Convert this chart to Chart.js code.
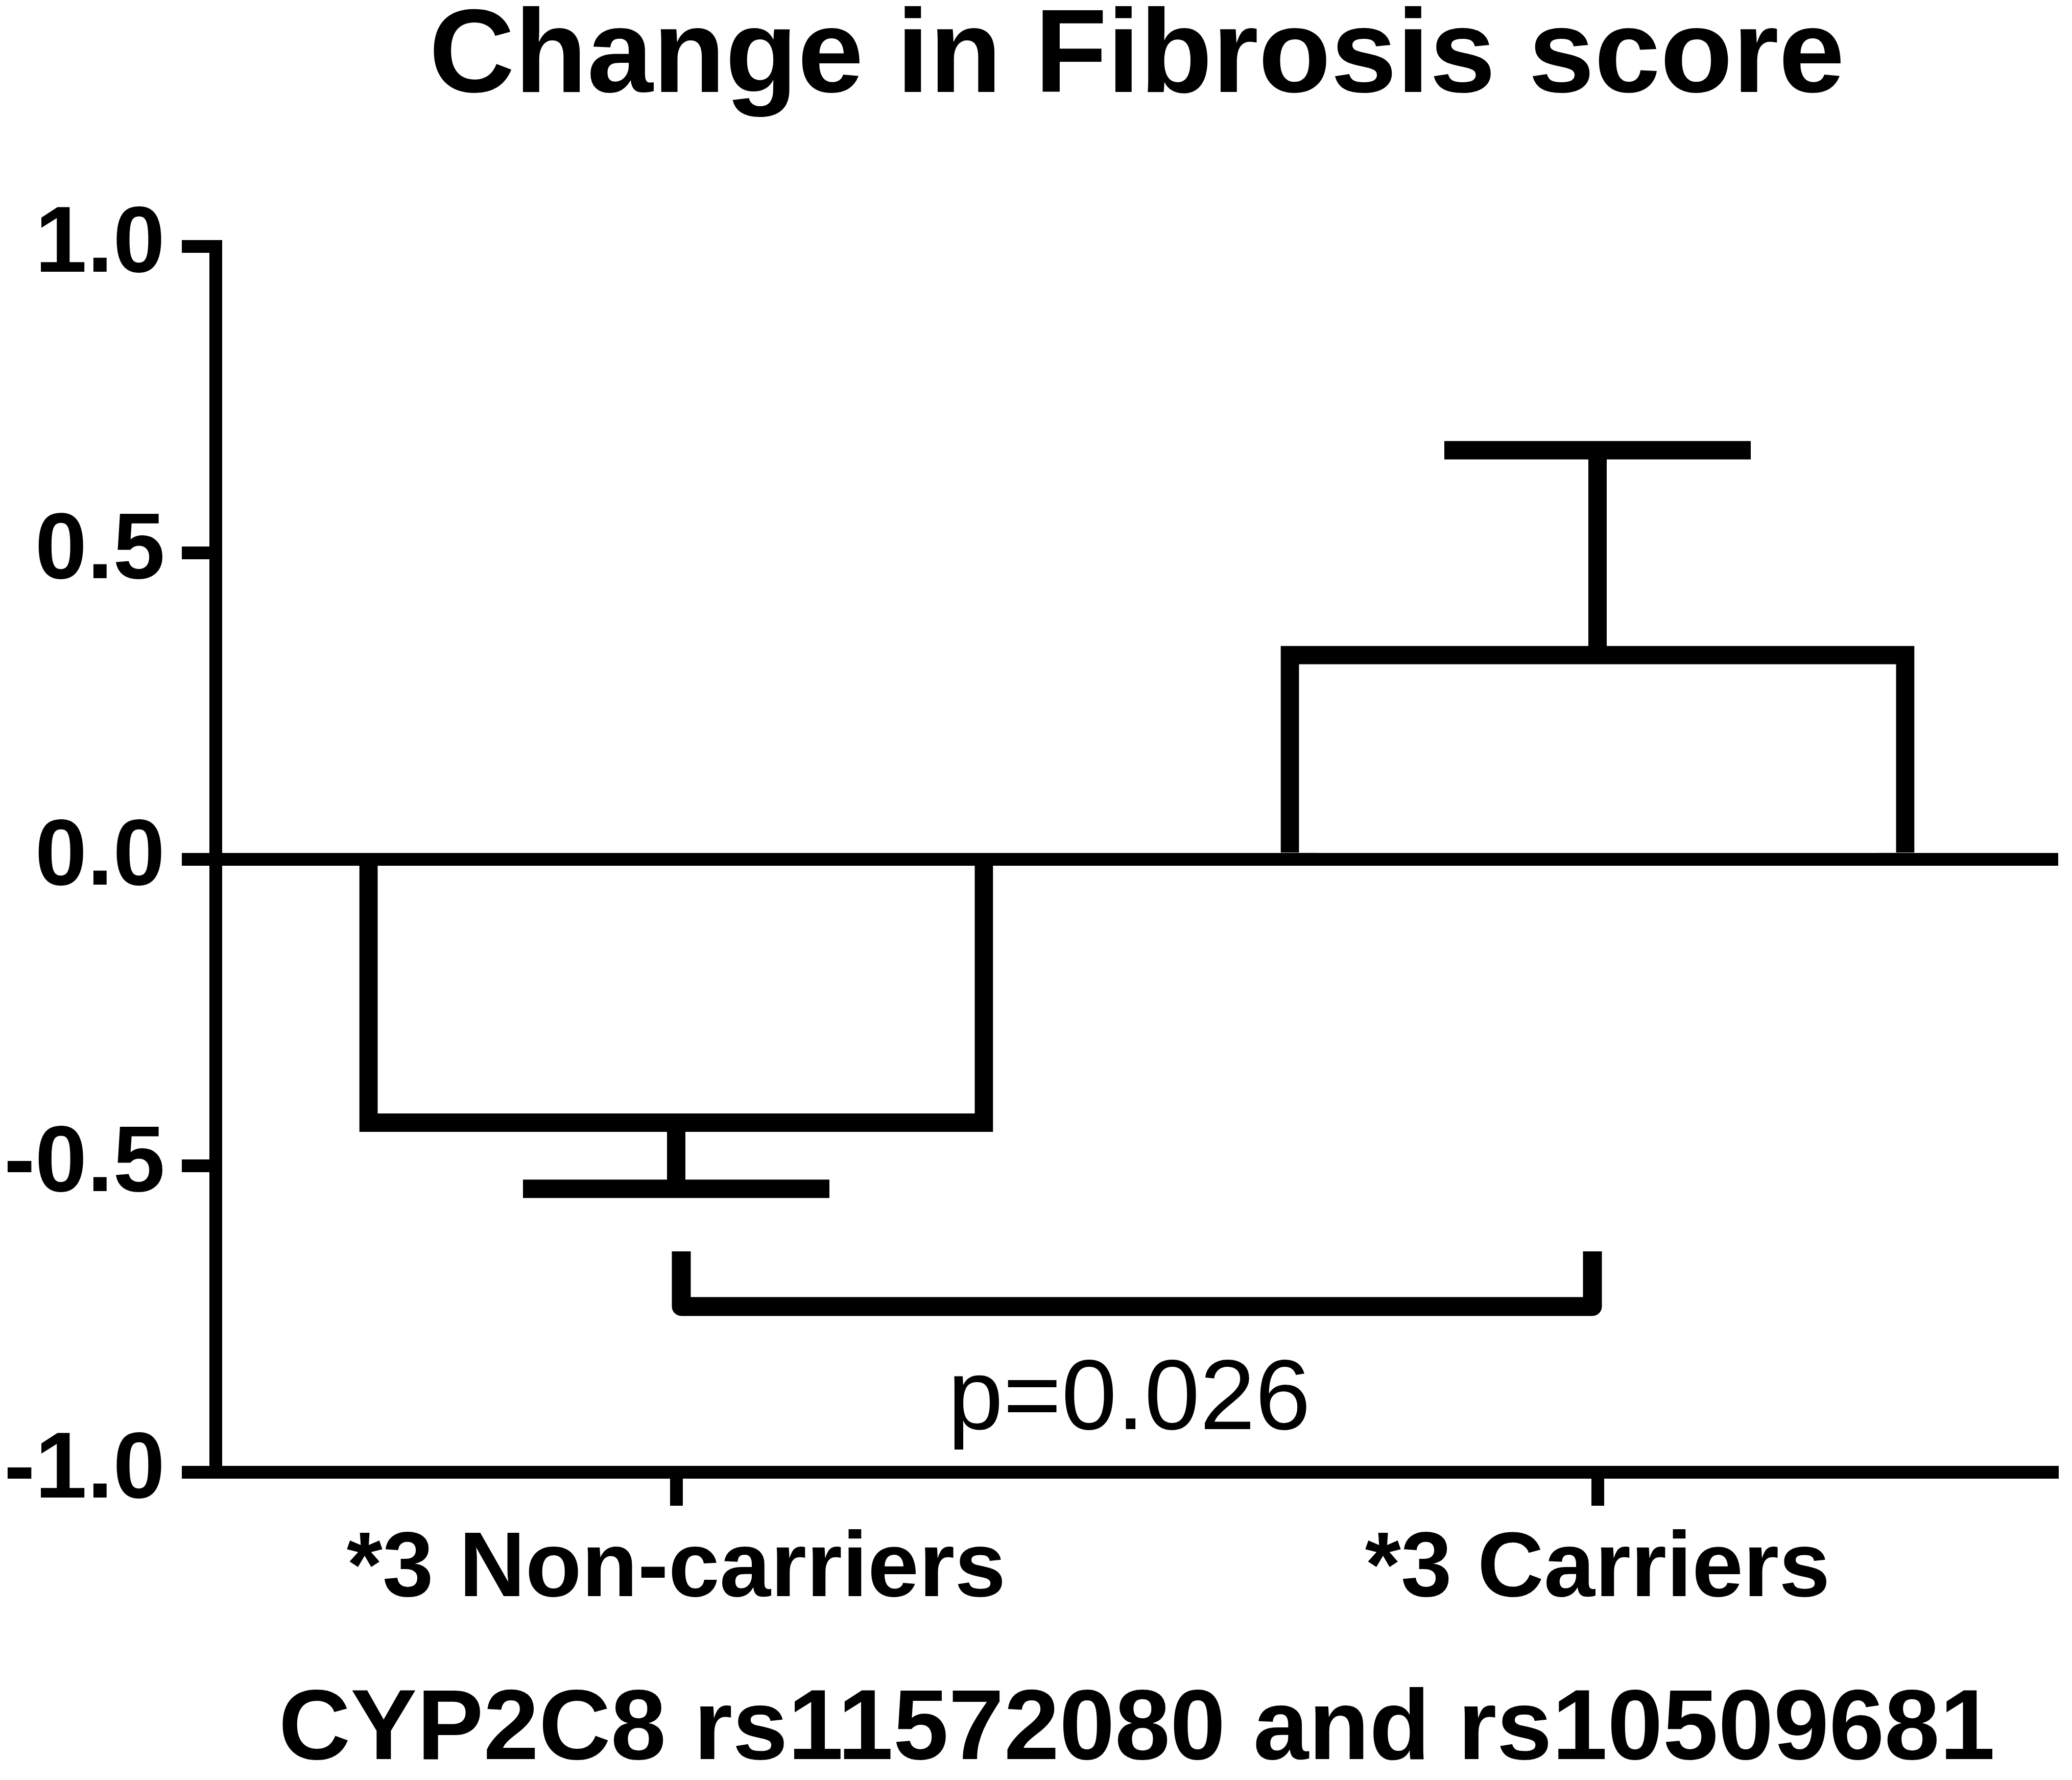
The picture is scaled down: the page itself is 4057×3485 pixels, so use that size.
<!DOCTYPE html>
<html>
<head>
<meta charset="utf-8">
<script src="https://cdn.jsdelivr.net/npm/chart.js@4.4.1/dist/chart.umd.min.js"></script>
<style>
  html, body { margin: 0; padding: 0; background: #fff; }
  #wrap { width: 4057px; height: 3485px; position: relative; }
</style>
</head>
<body>
<div id="wrap"><canvas id="c"></canvas></div>
<script>
// ---- data ----
const categories = ['*3 Non-carriers', '*3 Carriers'];
const meanChange = [-0.43, 0.333];
const semChange = [0.108, 0.334];
const yTickValues = [-1.0, -0.5, 0.0, 0.5, 1.0];
const chartTitle = 'Change in Fibrosis score';
const xAxisTitle = 'CYP2C8 rs11572080 and rs10509681';
const bracketFrom = 0;
const bracketTo = 1;
const bracketTop = -0.64;
const bracketBottom = -0.73;
const pLabel = 'p=0.026';
const pLabelY = -0.93;

const FONT = '"Liberation Sans", Arial, Helvetica, sans-serif';

const overlay = {
  id: 'overlay',
  afterDatasetsDraw(chart) {
    const { ctx } = chart;
    const x = chart.scales.x, y = chart.scales.y;
    ctx.save();
    ctx.strokeStyle = '#000';
    ctx.fillStyle = '#000';
    ctx.lineWidth = 36;
    ctx.lineCap = 'butt';
    const capHalf = 300;
    categories.forEach((c, i) => {
      const cx = x.getPixelForValue(i);
      const m = meanChange[i], s = semChange[i];
      const end = m >= 0 ? m + s : m - s;
      const y0 = y.getPixelForValue(m), y1 = y.getPixelForValue(end);
      ctx.beginPath(); ctx.moveTo(cx, y0); ctx.lineTo(cx, y1); ctx.stroke();
      ctx.beginPath(); ctx.moveTo(cx - capHalf, y1); ctx.lineTo(cx + capHalf, y1); ctx.stroke();
    });
    // significance bracket
    const bx1 = x.getPixelForValue(bracketFrom) + 10;
    const bx2 = x.getPixelForValue(bracketTo) - 10;
    const byT = y.getPixelForValue(bracketTop);
    const byB = y.getPixelForValue(bracketBottom);
    ctx.lineWidth = 37;
    ctx.lineJoin = 'round';
    ctx.beginPath();
    ctx.moveTo(bx1, byT); ctx.lineTo(bx1, byB); ctx.lineTo(bx2, byB); ctx.lineTo(bx2, byT);
    ctx.stroke();
    // p value
    ctx.font = '195px ' + FONT;
    ctx.textAlign = 'center';
    ctx.textBaseline = 'alphabetic';
    ctx.fillText(pLabel, (bx1 + bx2) / 2 - 15, y.getPixelForValue(pLabelY));
    ctx.restore();
  }
};

Chart.defaults.color = '#000';
Chart.defaults.font.family = FONT;

new Chart(document.getElementById('c'), {
  type: 'bar',
  data: {
    labels: categories,
    datasets: [{
      data: meanChange,
      backgroundColor: '#ffffff',
      borderColor: '#000000',
      borderWidth: 36,
      inflateAmount: 18,
      borderSkipped: 'start',
      barPercentage: 0.668,
      categoryPercentage: 1.0
    }]
  },
  options: {
    responsive: true,
    maintainAspectRatio: false,
    devicePixelRatio: 1,
    animation: false,
    layout: { padding: { left: 0, right: 27, top: 0, bottom: 0 } },
    plugins: {
      legend: { display: false },
      tooltip: { enabled: false },
      title: {
        display: true,
        text: chartTitle,
        fullSize: false,
        color: '#000',
        font: { family: FONT, size: 232, weight: 'bold', lineHeight: 1.0 },
        padding: { top: 0, bottom: 250 }
      }
    },
    scales: {
      x: {
        type: 'category',
        offset: true,
        grid: {
          display: true,
          drawOnChartArea: false,
          offset: false,
          color: '#000',
          tickLength: 66,
          tickWidth: 25,
          tickColor: '#000'
        },
        border: { display: true, color: '#000', width: 25 },
        ticks: {
          color: '#000',
          font: { family: FONT, size: 180, weight: 'bold', lineHeight: 1.2 },
          padding: 19,
          maxRotation: 0,
          autoSkip: false
        },
        title: {
          display: true,
          text: xAxisTitle,
          color: '#000',
          font: { family: FONT, size: 195, weight: 'bold', lineHeight: 1.0 },
          padding: { top: 0, bottom: -3 }
        },
        afterFit(scale) { scale.height = 603; }
      },
      y: {
        min: -1,
        max: 1,
        afterBuildTicks(scale) { scale.ticks = yTickValues.map(v => ({ value: v })); },
        grid: {
          display: true,
          drawOnChartArea: true,
          z: 1,
          color: (c) => (c.tick && c.tick.value === 0 ? '#000' : 'rgba(0,0,0,0)'),
          lineWidth: 25,
          tickLength: 66,
          tickWidth: 25,
          tickColor: '#000'
        },
        border: { display: true, color: '#000', width: 25, z: 1 },
        ticks: {
          color: '#000',
          font: { family: FONT, size: 183, weight: 'bold' },
          padding: 33,
          callback: (v) => Number(v).toFixed(1)
        },
        afterFit(scale) { scale.width = 422; }
      }
    }
  },
  plugins: [overlay]
});
</script>
</body>
</html>
